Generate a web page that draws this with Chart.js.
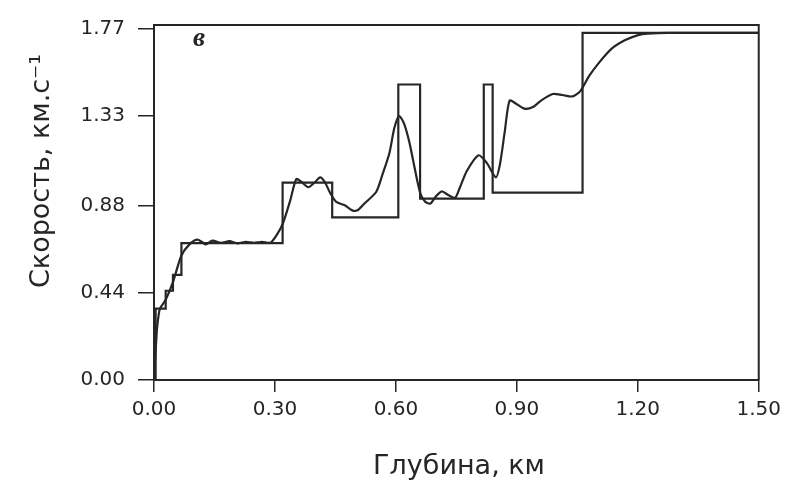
<!DOCTYPE html>
<html>
<head>
<meta charset="utf-8">
<script src="https://cdn.jsdelivr.net/npm/chart.js@4.4.1/dist/chart.umd.min.js"></script>
<style>
  body { margin: 0; background: #fff; }
  #wrap { width: 787px; height: 485px; }
</style>
</head>
<body>
<div id="wrap"><canvas id="velChart" width="787" height="485"></canvas></div>
<script>
// Layered model: depth of each boundary (km) and velocity below it (km/s)
const modelDepth = [0, 0.004, 0.029, 0.047, 0.068, 0.319, 0.442, 0.606, 0.660, 0.818, 0.840, 1.063, 1.5];
const modelVel   = [0, 0.36, 0.45, 0.53, 0.69, 0.995, 0.82, 1.49, 0.915, 1.49, 0.945, 1.75, 1.75];

// Recovered velocity profile
const invDepth = [0, 0.007, 0.011, 0.015, 0.029, 0.047, 0.068, 0.088, 0.108, 0.129, 0.145, 0.166, 0.187,
  0.207, 0.228, 0.248, 0.268, 0.289, 0.305, 0.320, 0.338, 0.353, 0.367, 0.383, 0.399, 0.412, 0.424,
  0.438, 0.452, 0.473, 0.493, 0.506, 0.522, 0.551, 0.567, 0.584, 0.596, 0.608, 0.620, 0.633, 0.643,
  0.653, 0.661, 0.673, 0.686, 0.698, 0.714, 0.731, 0.747, 0.759, 0.776, 0.805, 0.825, 0.848, 0.858,
  0.870, 0.882, 0.899, 0.919, 0.940, 0.960, 0.989, 1.013, 1.038, 1.058, 1.079, 1.103, 1.136, 1.169,
  1.201, 1.225, 1.275, 1.5];
const invVel = [0, 0.247, 0.321, 0.361, 0.405, 0.494, 0.628, 0.684, 0.708, 0.684, 0.703, 0.692, 0.700,
  0.689, 0.697, 0.692, 0.697, 0.692, 0.733, 0.791, 0.906, 1.013, 0.997, 0.972, 0.997, 1.022, 0.997,
  0.939, 0.898, 0.881, 0.854, 0.857, 0.890, 0.948, 1.038, 1.145, 1.269, 1.331, 1.294, 1.203, 1.104,
  1.005, 0.939, 0.898, 0.890, 0.923, 0.951, 0.931, 0.919, 0.972, 1.054, 1.133, 1.096, 1.022, 1.087,
  1.252, 1.409, 1.392, 1.368, 1.376, 1.409, 1.442, 1.437, 1.430, 1.458, 1.532, 1.598, 1.672, 1.714,
  1.739, 1.746, 1.750, 1.750];

const xTicks = [0, 0.3, 0.6, 0.9, 1.2, 1.5];
const yTicks = [0, 0.44, 0.88, 1.33, 1.77];

const ink = '#262626';

function toPoints(xs, ys) {
  return xs.map((x, i) => ({ x: x, y: ys[i] }));
}

// box around the plot, axis titles and panel letter
const decorations = {
  id: 'decorations',
  afterDraw(chart) {
    const { ctx, chartArea: a } = chart;
    ctx.save();
    ctx.strokeStyle = ink;
    ctx.lineWidth = 2;
    ctx.beginPath();
    ctx.moveTo(a.left, a.top);
    ctx.lineTo(a.right, a.top);
    ctx.lineTo(a.right, a.bottom);
    ctx.stroke();

    ctx.fillStyle = ink;
    ctx.font = '27px "DejaVu Sans"';
    ctx.textAlign = 'center';
    ctx.textBaseline = 'alphabetic';
    ctx.fillText('Глубина, км', 459, 474);

    ctx.save();
    ctx.translate(49, 288);
    ctx.rotate(-Math.PI / 2);
    ctx.textAlign = 'left';
    ctx.fillText('Скорость, км.с⁻¹', 0, 0);
    ctx.restore();

    ctx.font = 'italic bold 27px "Liberation Serif"';
    ctx.textAlign = 'center';
    ctx.fillText('в', 199, 46);
    ctx.restore();
  }
};

const ctx = document.getElementById('velChart').getContext('2d');
const velChart = new Chart(ctx, {
  type: 'line',
  data: {
    datasets: [
      {
        label: 'model',
        data: toPoints(modelDepth, modelVel),
        stepped: 'before',
        borderColor: ink,
        borderWidth: 2.2,
        pointRadius: 0,
        fill: false
      },
      {
        label: 'inversion',
        data: toPoints(invDepth, invVel),
        borderColor: ink,
        borderWidth: 2.2,
        pointRadius: 0,
        tension: 0.25,
        fill: false
      }
    ]
  },
  options: {
    responsive: false,
    animation: false,
    layout: { padding: { left: 74, right: 22, top: 18, bottom: 65 } },
    plugins: {
      legend: { display: false },
      tooltip: { enabled: false }
    },
    scales: {
      x: {
        type: 'linear',
        min: 0,
        max: 1.5,
        afterBuildTicks: function (scale) {
          scale.ticks = xTicks.map(v => ({ value: v }));
        },
        afterFit: function (scale) { scale.height = 40; },
        border: { display: true, color: ink, width: 2 },
        grid: { drawOnChartArea: false, drawTicks: true, tickLength: 12, color: ink, lineWidth: 1.5 },
        ticks: {
          padding: 6,
          color: ink,
          font: { family: 'DejaVu Sans', size: 20 },
          maxRotation: 0,
          callback: function (value) { return value.toFixed(2); }
        }
      },
      y: {
        type: 'linear',
        min: 0,
        max: 1.79,
        afterBuildTicks: function (scale) {
          scale.ticks = yTicks.map(v => ({ value: v }));
        },
        afterFit: function (scale) { scale.width = 80; },
        border: { display: true, color: ink, width: 2 },
        grid: { drawOnChartArea: false, drawTicks: true, tickLength: 16, color: ink, lineWidth: 1.5 },
        ticks: {
          padding: 13,
          color: ink,
          font: { family: 'DejaVu Sans', size: 20 },
          callback: function (value) { return value.toFixed(2); }
        }
      }
    }
  },
  plugins: [decorations]
});
</script>
</body>
</html>
